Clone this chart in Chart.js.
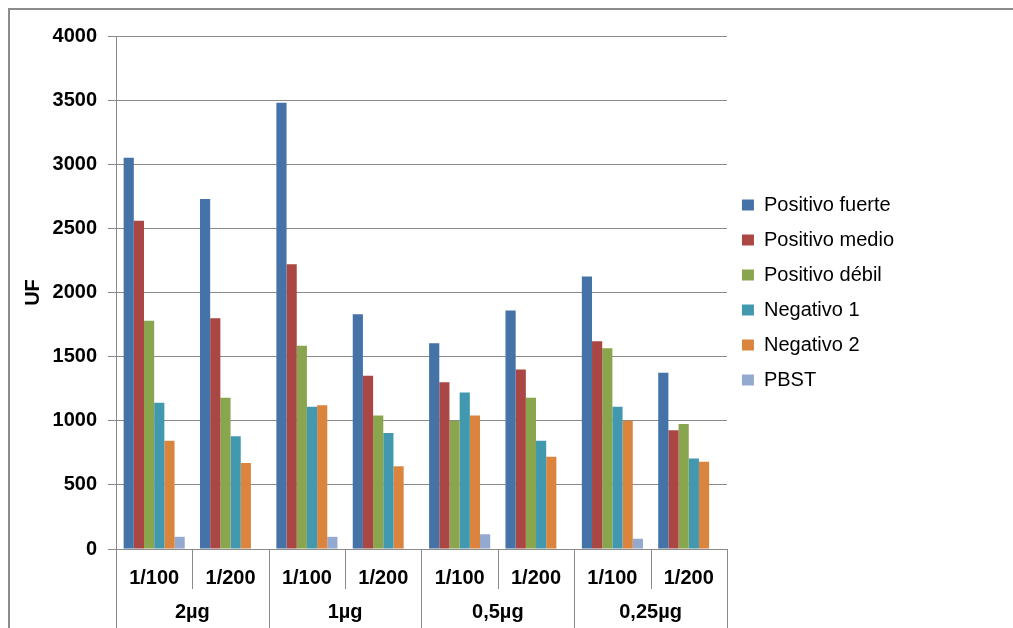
<!DOCTYPE html>
<html>
<head>
<meta charset="utf-8">
<script src="https://cdn.jsdelivr.net/npm/chart.js@4/dist/chart.umd.min.js"></script>
<style>
  html, body { margin: 0; padding: 0; background: #ffffff; }
  #wrap { position: relative; width: 1013px; height: 628px; }
</style>
</head>
<body>
<div id="wrap"><canvas id="c"></canvas></div>
<script>
// ---- data ----
const dilutions = ['1/100', '1/200', '1/100', '1/200', '1/100', '1/200', '1/100', '1/200'];
const doses = ['2µg', '1µg', '0,5µg', '0,25µg'];
const seriesNames = ['Positivo fuerte', 'Positivo medio', 'Positivo débil', 'Negativo 1', 'Negativo 2', 'PBST'];
const positivoFuerte = [3050, 2730, 3480, 1830, 1605, 1860, 2125, 1375];
const positivoMedio  = [2560, 1800, 2220, 1350, 1300, 1400, 1620, 925];
const positivoDebil  = [1780, 1180, 1585, 1040, 1000, 1180, 1565, 975];
const negativo1      = [1140, 880, 1110, 905, 1220, 845, 1110, 705];
const negativo2      = [845, 670, 1120, 645, 1040, 720, 1000, 680];
const pbst           = [95, 0, 95, 0, 115, 0, 80, 0];
const yTitle = 'UF';

const colors = ['#4572A7', '#AA4643', '#89A54E', '#4198AF', '#DB843D', '#93A9CF'];
const seriesValues = [positivoFuerte, positivoMedio, positivoDebil, negativo1, negativo2, pbst];

const FONT = "'Liberation Sans', Arial, sans-serif";
const GRID = '#8a8a8a';

const decorPlugin = {
  id: 'decor',
  beforeDraw(chart) {
    const ctx = chart.ctx;
    ctx.save();
    ctx.strokeStyle = '#8c8c8c';
    ctx.lineWidth = 2;
    ctx.beginPath();
    ctx.moveTo(9, 628);
    ctx.lineTo(9, 9);
    ctx.lineTo(1013, 9);
    ctx.stroke();
    ctx.restore();
  },
  afterDraw(chart) {
    const ctx = chart.ctx;
    const xs = chart.scales.x;
    const n = dilutions.length;
    const w = xs.getPixelForValue(1) - xs.getPixelForValue(0);
    const top = xs.top;
    ctx.save();
    ctx.strokeStyle = GRID;
    ctx.lineWidth = 1;
    for (let i = 0; i <= n; i++) {
      const bx = Math.round((i < n ? xs.getPixelForValue(i) - w / 2 : xs.getPixelForValue(n - 1) + w / 2)) + 0.5;
      const bottom = (i % 2 === 0) ? 628 : top + 40;
      ctx.beginPath();
      ctx.moveTo(bx, top);
      ctx.lineTo(bx, bottom);
      ctx.stroke();
    }
    ctx.fillStyle = '#000';
    ctx.font = 'bold 20px ' + FONT;
    ctx.textAlign = 'center';
    ctx.textBaseline = 'middle';
    doses.forEach((d, g) => {
      const cx = (xs.getPixelForValue(2 * g) + xs.getPixelForValue(2 * g + 1)) / 2;
      ctx.fillText(d, cx, 612);
    });
    ctx.restore();
  }
};

new Chart(document.getElementById('c'), {
  type: 'bar',
  data: {
    labels: dilutions,
    datasets: seriesNames.map((name, i) => ({
      label: name,
      data: seriesValues[i],
      backgroundColor: colors[i],
      borderWidth: 0,
      categoryPercentage: 0.8,
      barPercentage: 1.0
    }))
  },
  options: {
    responsive: true,
    maintainAspectRatio: false,
    animation: false,
    layout: { padding: { left: 0, top: 36, right: 109, bottom: 0 } },
    plugins: {
      legend: {
        position: 'right',
        fullSize: false,
        labels: {
          boxWidth: 12,
          boxHeight: 11,
          padding: 15,
          color: '#000',
          font: { family: FONT, size: 20 }
        }
      },
      tooltip: { enabled: false }
    },
    scales: {
      x: {
        grid: { display: false, drawTicks: false },
        border: { display: false },
        ticks: {
          color: '#000',
          padding: 17,
          maxRotation: 0,
          autoSkip: false,
          font: { family: FONT, size: 20, weight: 'bold' }
        },
        afterFit(scale) { scale.height = 79; }
      },
      y: {
        min: 0,
        max: 4000,
        ticks: {
          stepSize: 500,
          color: '#000',
          padding: 11,
          callback: (v) => String(v),
          font: { family: FONT, size: 20, weight: 'bold' }
        },
        grid: { color: GRID, lineWidth: 1, tickLength: 8 },
        border: { color: GRID, width: 1 },
        title: {
          display: true,
          text: yTitle,
          color: '#000',
          padding: { top: 21, bottom: 0 },
          font: { family: FONT, size: 20, weight: 'bold' }
        },
        afterFit(scale) { scale.width = 116; }
      }
    }
  },
  plugins: [decorPlugin]
});
</script>
</body>
</html>
